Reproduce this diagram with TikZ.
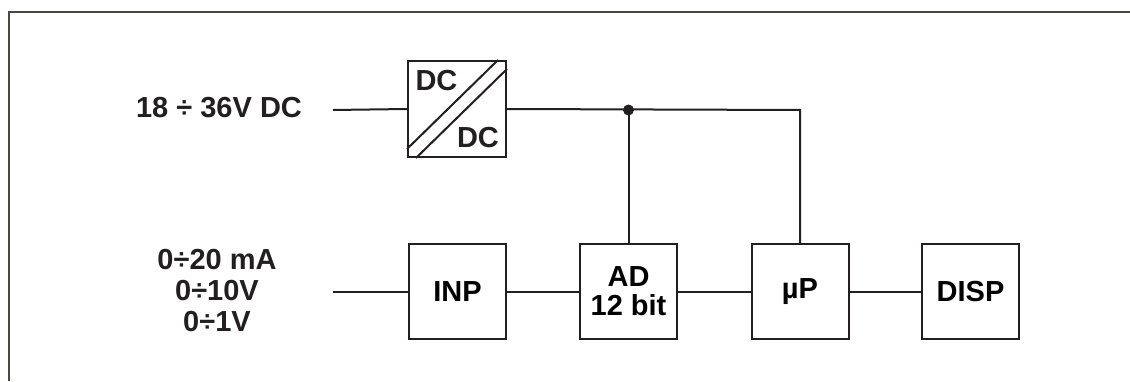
\documentclass[tikz,border=0pt]{standalone}
\usepackage{fontspec}
\setmainfont{Liberation Sans}
\usepackage{tikz}
\usetikzlibrary{calc}

\definecolor{wire}{HTML}{231F20}
\definecolor{frame}{HTML}{4A4640}

\begin{document}
\begin{tikzpicture}[x=1pt,y=1pt,line cap=butt,line join=miter,
    blk/.style={draw=wire,line width=2pt,minimum width=97pt,minimum height=95pt,
      inner sep=0pt,align=center,font=\fontsize{29}{32}\selectfont\bfseries},
    lbl/.style={align=center,inner sep=0pt,text=wire,
      font=\fontsize{29}{31}\selectfont\bfseries},
    wr/.style={draw=wire,line width=2pt}]
  \useasboundingbox (0,0) rectangle (1130,381);
  % Frame
  \draw[frame,line width=2pt] (9,0)--(9,369)--(1130,369);

  % Supply
  \node[blk,minimum width=98pt,minimum height=96pt] (dcdc) at (457,272) {};
  \draw[wr] ($(dcdc.south west)+(0,9)$)--($(dcdc.north east)+(-9,0)$)
            ($(dcdc.south west)+(9,0)$)--($(dcdc.north east)+(0,-9)$);
  \node[lbl] (dc1) at (436.5,300) {DC};
  \node[lbl] (dc2) at (478,243) {DC};
  \node[lbl] (vsup) at (219,273) {18 ÷ 36V DC};
  \coordinate (sin) at (333,271);

  % Signal chain
  \node[blk] (inp) at (457.5,89.5) {INP};
  \node[blk] (ad) at (628.5,89.5) {AD\\[-3pt]12 bit};
  \node[blk] (up) at (800,89.5) {µP};
  \node[blk] (disp) at (970.5,89.5) {DISP};
  \node[lbl] (vin) at (217,90) {0÷20 mA\\0÷10V\\0÷1V};
  \coordinate (ain) at (333,89.5);

  % Wiring
  \coordinate (jn) at (ad.north |- sin);
  \coordinate (cr) at (up.north |- sin);
  \draw[wr] (sin)--(dcdc.west);
  \draw[wr] (dcdc.east)--(cr)--(up.north);
  \draw[wr] (jn)--(ad.north);
  \draw[wr] (ain)--(inp.west) (inp.east)--(ad.west)
            (ad.east)--(up.west) (up.east)--(disp.west);
  \fill[wire] (jn) circle (5.5pt);
\end{tikzpicture}
\end{document}
